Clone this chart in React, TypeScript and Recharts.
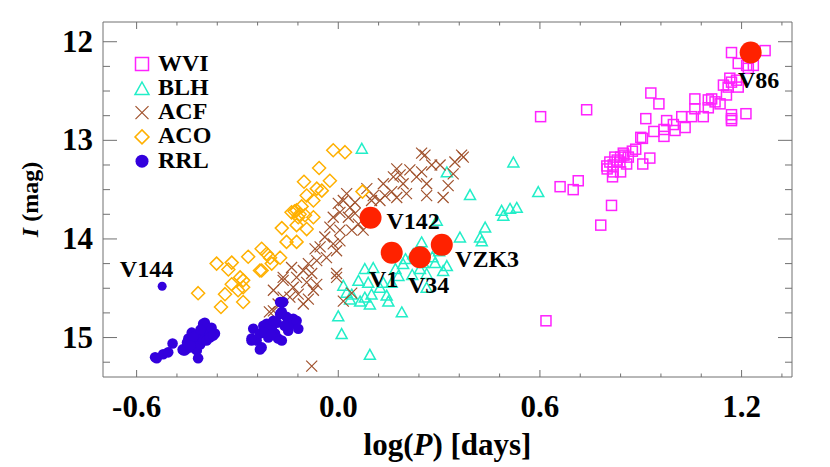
import { ScatterChart, Scatter, XAxis, YAxis, Legend } from 'recharts'

// log(P) [days], I [mag]
const WVI: [number, number][] = [
  [1.27, 12.09], [1.17, 12.11], [1.19, 12.22], [1.215, 12.24], [1.235, 12.24], [1.22, 12.27],
  [1.165, 12.37], [1.185, 12.39], [1.17, 12.41], [1.146, 12.44], [1.16, 12.46], [1.19, 12.46],
  [1.155, 12.54], [1.111, 12.58], [1.121, 12.61], [1.101, 12.59], [1.136, 12.63], [1.061, 12.58],
  [1.061, 12.68], [1.101, 12.67], [1.086, 12.76], [1.051, 12.76], [1.022, 12.76], [1.17, 12.74],
  [1.17, 12.78], [1.17, 12.8], [1.213, 12.73], [0.93, 12.52], [0.954, 12.63], [0.915, 12.78],
  [0.977, 12.8], [0.997, 12.84], [1.002, 12.9], [1.032, 12.87], [0.969, 12.89], [0.969, 12.96],
  [0.939, 12.91], [0.9, 12.97], [0.905, 12.98], [0.885, 13.09], [0.875, 13.11], [0.848, 13.13],
  [0.863, 13.17], [0.84, 13.17], [0.823, 13.17], [0.808, 13.22], [0.799, 13.26], [0.818, 13.25],
  [0.838, 13.22], [0.858, 13.24], [0.818, 13.32], [0.816, 13.37], [0.84, 13.32], [0.906, 13.24],
  [0.927, 13.18], [0.83, 13.2], [0.85, 13.15], [0.8, 13.29], [0.813, 13.66], [0.781, 13.86],
  [0.739, 12.69], [0.714, 13.41], [0.66, 13.47], [0.699, 13.5], [0.602, 12.76], [0.618, 14.83],
]

const BLH: [number, number][] = [
  [0.07, 13.08], [0.521, 13.22], [0.323, 13.32], [0.595, 13.52], [0.392, 13.55], [0.531, 13.68],
  [0.511, 13.69], [0.486, 13.71], [0.491, 13.76], [0.437, 13.88], [0.422, 13.98], [0.427, 14.02],
  [0.362, 13.98], [0.293, 13.81], [0.248, 14.03], [0.323, 14.27], [0.312, 14.32], [0.288, 14.24],
  [0.263, 14.35], [0.243, 14.3], [0.193, 14.25], [0.179, 14.37], [0.159, 14.44], [0.144, 14.57],
  [0.149, 14.63], [0.124, 14.49], [0.104, 14.29], [0.079, 14.3], [0.06, 14.42], [0.089, 14.44],
  [0.099, 14.56], [0.079, 14.59], [0.065, 14.63], [0.094, 14.66], [0.035, 14.61], [0.015, 14.47],
  [0.025, 14.54], [0.04, 14.56], [0.189, 14.74], [0.0, 14.78], [0.01, 14.96], [0.094, 15.17],
  [0.263, 14.49], [0.134, 14.44], [0.253, 14.24], [0.223, 14.15], [0.2, 14.2], [0.28, 14.18],
  [0.3, 14.12], [0.17, 14.3], [0.22, 14.36],
]

const ACF: [number, number][] = [
  [0.367, 13.15], [0.347, 13.22], [0.303, 13.25], [0.258, 13.15], [0.278, 13.25], [0.248, 13.32],
  [0.233, 13.37], [0.213, 13.3], [0.193, 13.44], [0.203, 13.54], [0.174, 13.29], [0.164, 13.37],
  [0.184, 13.35], [0.159, 13.52], [0.139, 13.56], [0.124, 13.61], [0.104, 13.56], [0.085, 13.49],
  [0.099, 13.61], [0.134, 13.44], [0.174, 13.58], [0.312, 13.58], [0.327, 13.46], [0.342, 13.34],
  [0.263, 13.44], [0.025, 13.54], [0.015, 13.61], [0.0, 13.64], [0.035, 13.68], [0.05, 13.63],
  [-0.015, 13.78], [0.005, 13.73], [0.03, 13.78], [0.05, 13.74], [0.06, 13.85], [0.074, 13.91],
  [0.04, 13.91], [0.005, 13.91], [-0.025, 13.88], [-0.04, 13.98], [-0.015, 14.05], [0.005, 14.02],
  [-0.054, 14.08], [-0.035, 14.19], [-0.064, 14.22], [-0.005, 14.12], [-0.089, 14.25], [-0.079, 14.35],
  [-0.104, 14.32], [-0.124, 14.39], [-0.094, 14.44], [-0.064, 14.46], [-0.134, 14.49], [-0.119, 14.56],
  [-0.144, 14.59], [-0.074, 14.52], [-0.164, 14.59], [-0.179, 14.66], [-0.193, 14.73], [-0.005, 14.35],
  [-0.104, 14.66], [-0.089, 14.61], [0.015, 14.63], [-0.079, 15.29], [-0.069, 14.1], [-0.139, 14.29],
  [-0.164, 14.39], [-0.205, 14.74], [-0.193, 14.52], [-0.164, 14.42], [-0.005, 14.39], [0.04, 14.55],
  [0.248, 13.13], [0.372, 13.17], [0.263, 13.56],
]

const ACO: [number, number][] = [
  [-0.015, 13.1], [0.02, 13.12], [-0.057, 13.28], [-0.025, 13.41], [-0.102, 13.42], [-0.064, 13.49],
  [-0.049, 13.51], [-0.094, 13.56], [-0.074, 13.61], [-0.109, 13.67], [-0.124, 13.71], [-0.139, 13.73],
  [-0.119, 13.78], [-0.099, 13.76], [-0.074, 13.78], [-0.168, 13.89], [-0.124, 13.86], [-0.094, 13.9],
  [-0.154, 14.03], [-0.124, 14.03], [-0.228, 14.1], [-0.213, 14.15], [-0.268, 14.18], [-0.203, 14.19],
  [-0.173, 14.19], [-0.362, 14.25], [-0.317, 14.24], [-0.327, 14.31], [-0.233, 14.32], [-0.292, 14.39],
  [-0.283, 14.42], [-0.317, 14.46], [-0.298, 14.52], [-0.417, 14.55], [-0.337, 14.56], [-0.283, 14.64],
  [-0.349, 14.69], [0.072, 13.52], [-0.228, 14.32], [-0.198, 14.25], [-0.283, 14.49], [-0.115, 13.75],
  [-0.13, 13.72],
]

const RRL: [number, number][] = [
  [-0.545, 15.2], [-0.54, 15.21], [-0.521, 15.17], [-0.506, 15.15], [-0.493, 15.06], [-0.463, 15.12],
  [-0.461, 15.13], [-0.456, 15.13], [-0.446, 15.01], [-0.441, 15.1], [-0.436, 14.95], [-0.431, 15.05],
  [-0.426, 15.03], [-0.421, 15.13], [-0.417, 15.0], [-0.417, 15.21], [-0.411, 15.07], [-0.406, 14.96],
  [-0.402, 15.03], [-0.397, 14.85], [-0.392, 14.91], [-0.392, 15.03], [-0.382, 14.96], [-0.382, 15.0],
  [-0.377, 14.9], [-0.367, 14.96], [-0.402, 14.86], [-0.372, 14.98], [-0.45, 15.05], [-0.43, 14.99],
  [-0.41, 14.92], [-0.44, 15.08],
  [-0.258, 15.03], [-0.253, 14.91], [-0.243, 15.03], [-0.233, 14.96], [-0.228, 15.1], [-0.223, 14.88],
  [-0.213, 14.86], [-0.208, 15.0], [-0.203, 14.9], [-0.198, 14.91], [-0.193, 14.83], [-0.188, 14.96],
  [-0.183, 14.85], [-0.179, 15.01], [-0.173, 14.76], [-0.168, 14.74], [-0.168, 15.03], [-0.164, 14.64],
  [-0.154, 14.79], [-0.149, 14.93], [-0.139, 14.86], [-0.134, 14.81], [-0.124, 14.83], [-0.119, 14.91],
  [-0.258, 15.01], [-0.233, 15.12], [-0.173, 14.64], [-0.22, 14.95], [-0.2, 14.97], [-0.16, 14.88],
]

const V144: [number, number][] = [[-0.524, 14.48]]

const SPECIAL_NAMES = ['V86', 'V142', 'V1', 'V34', 'VZK3']
const SPECIAL: [number, number][] = [[1.227, 12.11], [0.096, 13.785], [0.159, 14.14], [0.243, 14.185], [0.308, 14.06]]

const LEGEND_ORDER = ['WVI', 'BLH', 'ACF', 'ACO', 'RRL']

// major ticks every 0.6 on x and 1 on y; minor ones 5 and 4 per interval
const X_TICKS: number[] = []
for (let i = 0; i <= 16; i++) X_TICKS.push(+(-0.6 + i * 0.12).toFixed(2))
const Y_TICKS: number[] = []
for (let i = 0; i <= 13; i++) Y_TICKS.push(12 + i * 0.25)

const COL = {
  WVI: '#ff22ff',
  BLH: '#22eec8',
  ACF: '#a0522d',
  ACO: '#ffb000',
  RRL: '#3300dd',
  red: '#ff2200',
  axis: '#707070',
}
const FONT = 'Liberation Serif, Times New Roman, Times, serif'

const LABEL_OFFSET: Record<string, [number, number]> = {
  V86: [-12.7, 35.6],
  V142: [16, 11.7],
  V1: [-22.7, 34.4],
  V34: [-12, 36.3],
  VZK3: [13.3, 22.4],
  V144: [-42.3, -9.3],
}

const pts = (arr: [number, number][], names?: string[]) =>
  arr.map(([x, y], i) => ({ x, y, name: names ? names[i] : undefined }))

const isMajor = (v: number, step: number) => Math.abs(v / step - Math.round(v / step)) < 1e-6

// marker drawers
function Square({ cx, cy, s = 10 }: any) {
  return <rect x={cx - s / 2} y={cy - s / 2} width={s} height={s} fill="none" stroke={COL.WVI} strokeWidth={1.5} />
}
function Triangle({ cx, cy, s = 11 }: any) {
  const h = s * 0.9
  return (
    <polygon
      points={`${cx},${cy - h / 2} ${cx + s / 2},${cy + h / 2} ${cx - s / 2},${cy + h / 2}`}
      fill="none" stroke={COL.BLH} strokeWidth={1.5}
    />
  )
}
function Cross({ cx, cy, s = 11 }: any) {
  const d = s / 2
  return (
    <path d={`M${cx - d},${cy - d}L${cx + d},${cy + d}M${cx - d},${cy + d}L${cx + d},${cy - d}`}
      stroke={COL.ACF} strokeWidth={1.2} fill="none" />
  )
}
function Diamond({ cx, cy, s = 13 }: any) {
  const d = s / 2
  return (
    <polygon points={`${cx},${cy - d} ${cx + d},${cy} ${cx},${cy + d} ${cx - d},${cy}`}
      fill="none" stroke={COL.ACO} strokeWidth={1.5} />
  )
}
function Dot({ cx, cy, r = 5.3 }: any) {
  return <circle cx={cx} cy={cy} r={r} fill={COL.RRL} />
}

function Named({ cx, cy, payload, color, r }: any) {
  const name = payload?.name ?? 'V144'
  const [dx, dy] = LABEL_OFFSET[name] ?? [0, 0]
  return (
    <g>
      <circle cx={cx} cy={cy} r={r} fill={color} />
      <text x={cx + dx} y={cy + dy} fontFamily={FONT} fontWeight="bold" fontSize={24} fill="#000">
        {name}
      </text>
    </g>
  )
}

function BottomTick({ x, y, payload }: any) {
  const major = isMajor(payload.value, 0.6)
  return (
    <g>
      <line x1={x} x2={x} y1={y} y2={y - (major ? 7 : 3.5)} stroke={COL.axis} />
      {major && (
        <text x={x} y={y + 40} textAnchor="middle" fontFamily={FONT} fontWeight="bold" fontSize={31} fill="#000">
          {payload.value.toFixed(1)}
        </text>
      )}
    </g>
  )
}
function TopTick({ x, y, payload }: any) {
  const major = isMajor(payload.value, 0.6)
  return <line x1={x} x2={x} y1={y} y2={y + (major ? 7 : 3.5)} stroke={COL.axis} />
}
function LeftTick({ x, y, payload }: any) {
  const major = isMajor(payload.value, 1)
  return (
    <g>
      <line x1={x} x2={x + (major ? 14 : 7)} y1={y} y2={y} stroke={COL.axis} />
      {major && (
        <text x={x - 10} y={y + 10} textAnchor="end" fontFamily={FONT} fontWeight="bold" fontSize={31} fill="#000">
          {payload.value}
        </text>
      )}
    </g>
  )
}
function RightTick({ x, y, payload }: any) {
  const major = isMajor(payload.value, 1)
  return <line x1={x} x2={x - (major ? 14 : 7)} y1={y} y2={y} stroke={COL.axis} />
}

function XTitle({ viewBox }: any) {
  const cx = viewBox.x + viewBox.width / 2
  return (
    <text x={cx} y={viewBox.y + 78} textAnchor="middle" fontFamily={FONT} fontWeight="bold" fontSize={31} fill="#000">
      log(<tspan fontStyle="italic">P</tspan>) [days]
    </text>
  )
}
function YTitle({ viewBox }: any) {
  const cy = viewBox.y + viewBox.height / 2
  const x = 30
  return (
    <text x={x} y={cy} transform={`rotate(-90 ${x} ${cy})`} textAnchor="middle" fontFamily={FONT} fontWeight="bold" fontSize={24} fill="#000">
      <tspan fontStyle="italic">I</tspan> (mag)
    </text>
  )
}

const LEGEND_ICON: Record<string, (cx: number, cy: number) => any> = {
  WVI: (cx, cy) => <Square cx={cx} cy={cy} s={13} />,
  BLH: (cx, cy) => <Triangle cx={cx} cy={cy} s={14} />,
  ACF: (cx, cy) => <Cross cx={cx} cy={cy} s={13} />,
  ACO: (cx, cy) => <Diamond cx={cx} cy={cy} s={14} />,
  RRL: (cx, cy) => <Dot cx={cx} cy={cy} r={6.5} />,
}

function LegendBox({ payload }: any) {
  const names = (payload ?? []).map((p: any) => p.value)
  const items = LEGEND_ORDER.filter((n) => names.includes(n))
  return (
    <svg width={170} height={125} style={{ display: 'block', overflow: 'visible' }}>
      {items.map((n, i) => {
        const cy = 12 + i * 24.3
        return (
          <g key={n}>
            {LEGEND_ICON[n](8, cy)}
            <text x={24} y={cy + 6.5} fontFamily={FONT} fontWeight="bold" fontSize={24} fill="#000">
              {n}
            </text>
          </g>
        )
      })}
    </svg>
  )
}

const noMark = () => <g />

export default function App() {
  return (
    <div style={{ width: 822, height: 459 }}>
      <ScatterChart width={822} height={459} margin={{ top: 0, right: 0, bottom: 0, left: 0 }}>
        <XAxis
          type="number" dataKey="x" domain={[-0.7, 1.35]} allowDataOverflow ticks={X_TICKS} interval={0}
          height={90} tickSize={0} tickMargin={0} tick={<BottomTick />} stroke={COL.axis}
          label={<XTitle />}
        />
        <XAxis
          xAxisId="top" orientation="top" type="number" dataKey="x" domain={[-0.7, 1.35]} allowDataOverflow
          ticks={X_TICKS} interval={0} height={14} tickSize={0} tickMargin={0} tick={<TopTick />} stroke={COL.axis}
        />
        <YAxis
          type="number" dataKey="y" domain={[11.8, 15.4]} reversed allowDataOverflow ticks={Y_TICKS} interval={0}
          width={95} tickSize={0} tickMargin={0} tick={<LeftTick />} stroke={COL.axis}
          label={<YTitle />}
        />
        <YAxis
          yAxisId="right" orientation="right" type="number" dataKey="y" domain={[11.8, 15.4]} reversed allowDataOverflow
          ticks={Y_TICKS} interval={0} width={38} tickSize={0} tickMargin={0} tick={<RightTick />} stroke={COL.axis}
        />
        <Legend
          layout="vertical" align="center" verticalAlign="middle"
          wrapperStyle={{ left: 126, top: 44, width: 170, height: 125 }}
          content={<LegendBox />}
        />
        {/* keeps the top and right frame axes bound to data */}
        <Scatter
          name="frame" xAxisId="top" yAxisId="right" data={pts(SPECIAL)} legendType="none"
          isAnimationActive={false} shape={noMark}
        />
        <Scatter name="WVI" data={pts(WVI)} fill={COL.WVI} isAnimationActive={false} shape={(p: any) => <Square cx={p.cx} cy={p.cy} />} />
        <Scatter name="BLH" data={pts(BLH)} fill={COL.BLH} isAnimationActive={false} shape={(p: any) => <Triangle cx={p.cx} cy={p.cy} />} />
        <Scatter name="ACF" data={pts(ACF)} fill={COL.ACF} isAnimationActive={false} shape={(p: any) => <Cross cx={p.cx} cy={p.cy} />} />
        <Scatter name="ACO" data={pts(ACO)} fill={COL.ACO} isAnimationActive={false} shape={(p: any) => <Diamond cx={p.cx} cy={p.cy} />} />
        <Scatter name="RRL" data={pts(RRL)} fill={COL.RRL} isAnimationActive={false} shape={(p: any) => <Dot cx={p.cx} cy={p.cy} />} />
        <Scatter
          name="V144" data={pts(V144, ['V144'])} fill={COL.RRL} legendType="none" isAnimationActive={false}
          shape={(p: any) => <Named {...p} color={COL.RRL} r={4.5} />}
        />
        <Scatter
          name="named" data={pts(SPECIAL, SPECIAL_NAMES)} fill={COL.red} legendType="none" isAnimationActive={false}
          shape={(p: any) => <Named {...p} color={COL.red} r={11} />}
        />
      </ScatterChart>
    </div>
  )
}
